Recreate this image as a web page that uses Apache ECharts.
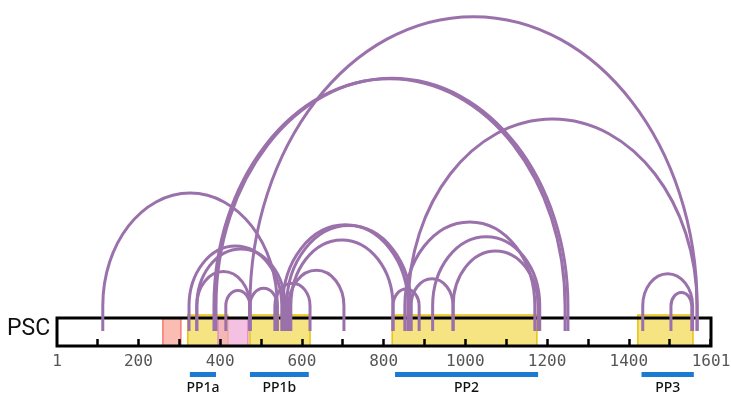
<!DOCTYPE html>
<html>
<head>
<meta charset="utf-8">
<script src="https://cdn.jsdelivr.net/npm/echarts@6/dist/echarts.min.js"></script>
<style>
  html, body { margin: 0; padding: 0; background: #fff; }
  #chart { width: 731px; height: 397px; }
</style>
</head>
<body>
<div id="chart"></div>
<script>
// sequence range
const seqStart = 1;
const seqEnd = 1601;
const tickValues = [100, 200, 300, 400, 500, 600, 700, 800, 900, 1000, 1100, 1200, 1300, 1400, 1500, 1600];
const tickLabels = [1, 200, 400, 600, 800, 1000, 1200, 1400, 1601];

// shaded domains on the bar
const redRegions = [[260, 304]];
const yellowRegions = [[321, 419], [473, 620], [821, 1175], [1422, 1557]];
const pinkRegions = [[395, 468]];

// labelled segments under the axis
const segNames = ["PP1a", "PP1b", "PP2", "PP3"];
const segStarts = [326, 473, 828, 1431];
const segEnds = [390, 617, 1178, 1559];

// links (start residue, end residue)
const arcStarts = [113, 324, 343, 343, 414, 473, 534, 385, 390, 473, 568, 553, 563, 573, 823, 867, 852, 920, 970, 860, 1434, 1503];
const arcEnds   = [540, 551, 559, 473, 473, 540, 620, 1244, 1251, 1567, 703, 860, 867, 823, 887, 970, 1170, 1182, 1178, 1567, 1556, 1554];

const purple = "#9b71ab";
const barTop = 28;      // y value of the bar's top edge
const legBase = 15;     // where arc legs end inside the bar
const legTop = 40;      // where the curved part starts

const chart = echarts.init(document.getElementById("chart"));

function regionSeries(name, list, fill, stroke, top) {
  return {
    name: name,
    type: "custom",
    z: 1,
    clip: false,
    data: list,
    renderItem: function (params, api) {
      const a = api.coord([api.value(0), top]);
      const b = api.coord([api.value(1), 0]);
      return {
        type: "rect",
        shape: { x: a[0], y: a[1], width: b[0] - a[0], height: b[1] - a[1] },
        style: { fill: fill, stroke: stroke, lineWidth: 1.5 },
      };
    },
  };
}

const option = {
  animation: false,
  backgroundColor: "#fff",
  grid: { left: 57, right: 20, top: 0, bottom: 51, containLabel: false, outerBoundsMode: "none" },
  xAxis: {
    type: "value",
    min: seqStart,
    max: seqEnd,
    z: 5,
    axisLine: { show: false, onZero: false },
    splitLine: { show: false },
    axisTick: {
      show: true,
      inside: true,
      length: 7,
      customValues: tickValues,
      lineStyle: { color: "#000", width: 2.5 },
    },
    axisLabel: {
      customValues: tickLabels,
      margin: 8,
      color: "#555",
      fontFamily: "DejaVu Sans Mono",
      fontSize: 16,
      formatter: function (v) { return String(v); },
    },
  },
  yAxis: {
    type: "value",
    min: 0,
    max: 346,
    show: false,
  },
  graphic: [
    {
      type: "text",
      left: 7,
      top: 318,
      style: {
        text: "PSC",
        fontFamily: "Roboto",
        fontSize: 23,
        fill: "#111",
      },
    },
  ],
  series: [
    regionSeries("red", redRegions, "rgba(250,165,155,0.75)", "#f47c6e", barTop),
    regionSeries("yellow", yellowRegions, "#f6e483", "#e8c20f", barTop + 3),
    regionSeries("pink", pinkRegions, "rgba(238,160,210,0.65)", "#e38dc6", barTop),
    {
      name: "bar",
      type: "custom",
      z: 3,
      clip: false,
      data: [[seqStart, seqEnd]],
      renderItem: function (params, api) {
        const a = api.coord([api.value(0), barTop]);
        const b = api.coord([api.value(1), 0]);
        return {
          type: "rect",
          shape: { x: a[0], y: a[1], width: b[0] - a[0], height: b[1] - a[1] },
          style: { fill: "none", stroke: "#000", lineWidth: 3 },
        };
      },
    },
    {
      name: "segments",
      type: "custom",
      z: 3,
      clip: false,
      data: segNames.map((n, i) => [segStarts[i], segEnds[i]]),
      renderItem: function (params, api) {
        const a = api.coord([api.value(0), -26]);
        const b = api.coord([api.value(1), -31]);
        const mid = (a[0] + b[0]) / 2;
        const ty = api.coord([seqStart, -42])[1];
        return {
          type: "group",
          children: [
            {
              type: "rect",
              shape: { x: a[0], y: a[1], width: b[0] - a[0], height: b[1] - a[1] },
              style: { fill: "#1b7bd3" },
            },
            {
              type: "text",
              x: mid,
              y: ty,
              style: {
                text: segNames[params.dataIndex],
                align: "center",
                verticalAlign: "middle",
                font: "500 14px 'Noto Sans'",
                fill: "#111",
              },
            },
          ],
        };
      },
    },
    {
      name: "links",
      type: "custom",
      z: 4,
      clip: false,
      data: arcStarts.map((s, i) => [s, arcEnds[i]]),
      renderItem: function (params, api) {
        const a = api.coord([api.value(0), legBase]);
        const b = api.coord([api.value(1), legBase]);
        const top = api.coord([api.value(0), legTop])[1];
        const rx = (b[0] - a[0]) / 2;
        const ry = rx * 1.294;
        const cx = (a[0] + b[0]) / 2;
        const k = 0.5523;
        const d =
          "M" + a[0] + " " + a[1] +
          " L" + a[0] + " " + top +
          " C" + a[0] + " " + (top - k * ry) + " " + (cx - k * rx) + " " + (top - ry) + " " + cx + " " + (top - ry) +
          " C" + (cx + k * rx) + " " + (top - ry) + " " + b[0] + " " + (top - k * ry) + " " + b[0] + " " + top +
          " L" + b[0] + " " + b[1];
        return {
          type: "path",
          shape: { pathData: d },
          style: { fill: "none", stroke: purple, lineWidth: 3 },
        };
      },
    },
  ],
};

chart.setOption(option);
</script>
</body>
</html>
